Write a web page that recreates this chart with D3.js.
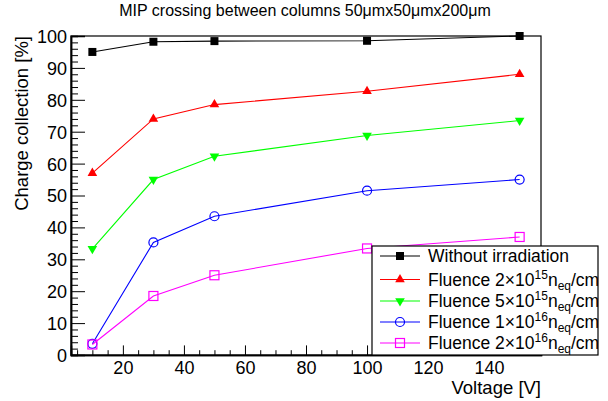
<!DOCTYPE html>
<html><head><meta charset="utf-8">
<script src="https://cdn.jsdelivr.net/npm/d3@7"></script>
<style>body{margin:0;background:#fff}svg{display:block}text{font-family:"Liberation Sans",Arial,sans-serif}</style>
</head><body>
<script>
const voltages = [10, 30, 50, 100, 150];
const seriesNames = ["Without irradiation", "Fluence 2", "Fluence 5", "Fluence 1", "Fluence 2b"];
const noIrr   = [95.0, 98.2, 98.4, 98.5, 100.0];
const fl2e15  = [57.0, 74.0, 78.5, 82.7, 88.0];
const fl5e15  = [33.3, 55.0, 62.3, 68.8, 73.5];
const fl1e16  = [3.5, 35.3, 43.5, 51.5, 55.0];
const fl2e16  = [3.3, 18.5, 25.0, 33.4, 37.0];
const xTicks = [20, 40, 60, 80, 100, 120, 140];
const yTicks = [0, 10, 20, 30, 40, 50, 60, 70, 80, 90, 100];
const legendMant = ["2", "5", "1", "2"];
const legendExp = ["15", "15", "16", "16"];

const W = 608, H = 401;
const L = 71, R = 541, T = 36, B = 355;
const svg = d3.select("body").append("svg").attr("width", W).attr("height", H);
const x = d3.scaleLinear().domain([3, 157]).range([L, R]);
const y = d3.scaleLinear().domain([0, 100]).range([B, T]);

svg.append("text").attr("x", 305).attr("y", 16).attr("text-anchor", "middle")
  .attr("font-size", 16).text("MIP crossing between columns 50\u03bcmx50\u03bcmx200\u03bcm");

// frame
svg.append("rect").attr("x", L).attr("y", T).attr("width", R - L).attr("height", B - T)
  .attr("fill", "none").attr("stroke", "#000").attr("stroke-width", 1.2);

// axes
const xMinor = d3.range(5, 157, 5).filter(v => v % 20 !== 0);
const yMinor = d3.range(0, 101, 2).filter(v => v % 10 !== 0);
const xAx = svg.append("g").attr("transform", `translate(0,${B})`)
  .call(d3.axisBottom(x).tickValues(xTicks).tickSize(-9.6).tickPadding(6).tickFormat(d3.format("d")));
svg.append("g").attr("transform", `translate(0,${B})`)
  .call(d3.axisBottom(x).tickValues(xMinor).tickSize(-4.8).tickFormat(""));
const yAx = svg.append("g").attr("transform", `translate(${L},0)`)
  .call(d3.axisLeft(y).tickValues(yTicks).tickSize(-14).tickPadding(4).tickFormat(d3.format("d")));
svg.append("g").attr("transform", `translate(${L},0)`)
  .call(d3.axisLeft(y).tickValues(yMinor).tickSize(-7).tickFormat(""));
svg.selectAll(".domain").attr("stroke", "#000").attr("stroke-width", 1.5);
svg.selectAll(".tick line").attr("stroke", "#000").attr("stroke-width", 1);
svg.selectAll(".tick text").attr("font-size", 18).attr("font-family", "Liberation Sans, Arial, sans-serif").attr("fill", "#000");
yAx.selectAll(".tick text").attr("dy", "0.36em");

svg.append("text").attr("x", R).attr("y", 394).attr("text-anchor", "end").attr("font-size", 18.5).text("Voltage [V]");
svg.append("text").attr("transform", `translate(28,${T}) rotate(-90)`).attr("text-anchor", "end")
  .attr("font-size", 18.5).text("Charge collection [%]");

const series = [
  {vals: noIrr, color: "#000000", marker: "square"},
  {vals: fl2e15, color: "#ff0000", marker: "triUp"},
  {vals: fl5e15, color: "#00ff00", marker: "triDown"},
  {vals: fl1e16, color: "#0000ff", marker: "circle"},
  {vals: fl2e16, color: "#ff00ff", marker: "openSquare"},
];
const line = d3.line().x((d, i) => x(voltages[i])).y(d => y(d));

function drawMarker(g, type, color, cx, cy) {
  if (type === "square") g.append("rect").attr("x", cx - 4).attr("y", cy - 4).attr("width", 8).attr("height", 8).attr("fill", color);
  else if (type === "triUp") g.append("path").attr("d", d3.symbol(d3.symbolTriangle, 40)()).attr("transform", `translate(${cx},${cy})`).attr("fill", color);
  else if (type === "triDown") g.append("path").attr("d", d3.symbol(d3.symbolTriangle, 40)()).attr("transform", `translate(${cx},${cy}) rotate(180)`).attr("fill", color);
  else if (type === "circle") g.append("circle").attr("cx", cx).attr("cy", cy).attr("r", 4.5).attr("fill", "none").attr("stroke", color).attr("stroke-width", 1.2);
  else g.append("rect").attr("x", cx - 4.5).attr("y", cy - 4.5).attr("width", 9).attr("height", 9).attr("fill", "none").attr("stroke", color).attr("stroke-width", 1.2);
}

series.forEach(s => {
  const g = svg.append("g");
  g.append("path").attr("d", line(s.vals)).attr("fill", "none").attr("stroke", s.color).attr("stroke-width", 1.1);
  s.vals.forEach((v, i) => drawMarker(g, s.marker, s.color, x(voltages[i]), y(v)));
});

// legend
const lx = 372, ly = 246, lw = 226, lh = 109;
svg.append("clipPath").attr("id", "legclip").append("rect").attr("x", lx).attr("y", ly).attr("width", lw).attr("height", lh);
const leg = svg.append("g");
leg.append("rect").attr("x", lx).attr("y", ly).attr("width", lw).attr("height", lh).attr("fill", "#fff").attr("stroke", "#000").attr("stroke-width", 1.2);
const rowsY = [256, 279.5, 301, 322, 343];
const lg = leg.append("g").attr("clip-path", "url(#legclip)");
series.forEach((s, i) => {
  const cy = rowsY[i];
  lg.append("line").attr("x1", 380).attr("x2", 420).attr("y1", cy).attr("y2", cy).attr("stroke", s.color).attr("stroke-width", 1.1);
  drawMarker(lg, s.marker, s.color, 400, cy);
  const t = lg.append("text").attr("x", 428).attr("y", cy + 6).attr("font-size", 17.5);
  if (i === 0) t.text(seriesNames[0]);
  else {
    t.append("tspan").text("Fluence " + legendMant[i - 1] + "\u00d710");
    t.append("tspan").attr("font-size", 12).attr("dy", -7).text(legendExp[i - 1]);
    t.append("tspan").attr("dy", 7).text("n");
    t.append("tspan").attr("font-size", 12).attr("dy", 4).text("eq");
    t.append("tspan").attr("dy", -4).text("/cm");
    t.append("tspan").attr("font-size", 12).attr("dy", -7).text("2");
  }
});
</script>
</body></html>
